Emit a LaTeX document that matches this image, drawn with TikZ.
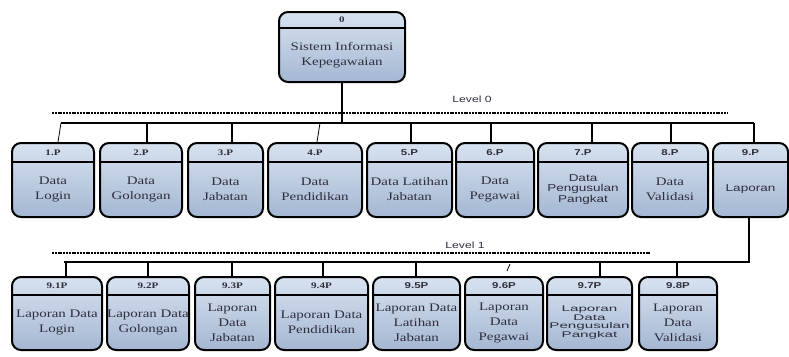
\documentclass[tikz,border=0pt]{standalone}
\usepackage{fontspec}
\setmainfont{Liberation Serif}
\newfontfamily\serifw[FakeStretch=1.3]{Liberation Serif}
\newfontfamily\sansw[FakeStretch=1.35]{Liberation Sans}
\newfontfamily\sanswide[FakeStretch=1.85]{Liberation Sans}
\definecolor{boxtop}{HTML}{D8E2F0}
\definecolor{boxbot}{HTML}{A4B7D2}
\definecolor{txt}{HTML}{2E2E3E}
\tikzset{
  pbox/.style={draw=black, line width=2pt, rounded corners=9pt, top color=boxtop, bottom color=boxbot, inner sep=0pt},
  divline/.style={line width=1.4pt},
  conn/.style={line width=2pt},
  thinconn/.style={line width=0.8pt},
  lvl/.style={line width=1.1pt, dash pattern=on 2pt off 0.8pt},
  idtxt/.style={text=txt, inner sep=0pt},
  serbody/.style={font=\serifw\fontsize{11.5}{15}\selectfont, text=txt, align=center, inner sep=0pt},
  sanbody/.style={font=\sansw\fontsize{10}{10.5}\selectfont, text=txt, align=center, inner sep=0pt},
  sanbodytight/.style={font=\sanswide\fontsize{8.2}{8.8}\selectfont, text=txt, align=center, inner sep=0pt},
  lvltxt/.style={font=\sansw\fontsize{9}{10}\selectfont, text=txt, inner sep=0pt}
}
\newcommand\serid{\serifw\fontsize{8.5}{9}\selectfont\bfseries}
\newcommand\sanid{\sansw\fontsize{8.5}{9}\selectfont\bfseries}
% name, x1, x2, y1, y2, ydiv, id, body style, body
\newcommand\pbox[9]{%
  \node[pbox, minimum width={(#3-#2)*1pt}, minimum height={(#5-#4)*1pt}] (#1) at ({(#2+#3)/2},{(#4+#5)/2}) {};
  \draw[divline] (#2,#6) -- (#3,#6);
  \node[idtxt] (#1-id) at ({(#2+#3)/2},{(#4+#6)/2}) {#7};
  \node[#8] (#1-t) at ({(#2+#3)/2},{(#6+#5)/2}) {#9};
}
\begin{document}
\begin{tikzpicture}[x=1pt,y=-1pt]
\useasboundingbox[fill=white] (0,0) rectangle (789,356);

% root
\pbox{root}{279}{405}{12}{82}{28}{\serid 0}{serbody}{Sistem Informasi\\Kepegawaian}

% level 0 row
\pbox{p1}{12}{94}{143}{217}{162}{\serid 1.P}{serbody}{Data\\Login}
\pbox{p2}{100}{182}{143}{217}{162}{\serid 2.P}{serbody}{Data\\Golongan}
\pbox{p3}{188}{263}{143}{217}{162}{\serid 3.P}{serbody}{Data\\Jabatan}
\pbox{p4}{268}{362}{143}{217}{162}{\serid 4.P}{serbody}{Data\\Pendidikan}
\pbox{p5}{367}{452}{143}{217}{162}{\sanid 5.P}{serbody}{Data Latihan\\Jabatan}
\pbox{p6}{456}{534}{143}{217}{162}{\sanid 6.P}{serbody}{Data\\Pegawai}
\pbox{p7}{538}{628}{143}{217}{162}{\sanid 7.P}{sanbody}{Data\\Pengusulan\\Pangkat}
\pbox{p8}{632}{708}{143}{217}{162}{\sanid 8.P}{serbody}{Data\\Validasi}
\pbox{p9}{713}{788}{143}{217}{162}{\sanid 9.P}{sanbody}{Laporan}

% level 1 row
\pbox{q1}{12}{102}{277}{350}{295}{\serid 9.1P}{serbody}{Laporan Data\\Login}
\pbox{q2}{107}{189}{277}{350}{295}{\serid 9.2P}{serbody}{Laporan Data\\Golongan}
\pbox{q3}{195}{270}{277}{350}{295}{\serid 9.3P}{serbody}{Laporan\\Data\\Jabatan}
\pbox{q4}{275}{368}{277}{350}{295}{\serid 9.4P}{serbody}{Laporan Data\\Pendidikan}
\pbox{q5}{373}{460}{277}{350}{295}{\sanid 9.5P}{serbody}{Laporan Data\\Latihan\\Jabatan}
\pbox{q6}{465}{543}{277}{350}{295}{\sanid 9.6P}{serbody}{Laporan\\Data\\Pegawai}
\pbox{q7}{547}{632}{277}{350}{295}{\sanid 9.7P}{sanbodytight}{Laporan\\Data\\Pengusulan\\Pangkat}
\pbox{q8}{639}{717}{277}{350}{295}{\sanid 9.8P}{serbody}{Laporan\\Data\\Validasi}

% level 0 bus
\coordinate (b0L) at (61,123);
\coordinate (b0R) at (754,123);
\draw[lvl] (52,113) -- (728,113);
\node[lvltxt] (lv0) at (472,99) {Level 0};
\draw[conn] (root.south) -- (root.south |- b0L);
\draw[conn] (b0L) -- (b0R);
\draw[thinconn] (b0L) -- (p1.north -| 58,0);
\draw[conn] (p2.north -| 147,0) -- (b0L -| 147,0);
\draw[conn] (p3.north -| 232,0) -- (b0L -| 232,0);
\draw[thinconn] (b0L -| 320,0) -- (p4.north -| 317,0);
\draw[conn] (p5.north -| 411,0) -- (b0L -| 411,0);
\draw[conn] (p6.north -| 491,0) -- (b0L -| 491,0);
\draw[conn] (p7.north -| 592,0) -- (b0L -| 592,0);
\draw[conn] (p8.north -| 671,0) -- (b0L -| 671,0);
\draw[conn] (p9.north -| 754,0) -- (b0R);

% level 1 bus
\coordinate (b1R) at (749,262);
\coordinate (b1L) at (64,262);
\draw[lvl] (52,253) -- (650,253);
\node[lvltxt] (lv1) at (465,245) {Level 1};
\draw[conn] (p9.south -| b1R) -- (b1R) -- (b1L);
\draw[conn] (q1.north -| 66,0) -- (b1L -| 66,0);
\draw[conn] (q2.north -| 148,0) -- (b1L -| 148,0);
\draw[conn] (q3.north -| 232,0) -- (b1L -| 232,0);
\draw[conn] (q4.north -| 323,0) -- (b1L -| 323,0);
\draw[conn] (q5.north -| 416,0) -- (b1L -| 416,0);
\draw[thinconn] (510,264) -- (507,271);
\draw[conn] (q7.north -| 600,0) -- (b1L -| 600,0);
\draw[conn] (q8.north -| 677,0) -- (b1L -| 677,0);
\end{tikzpicture}
\end{document}
